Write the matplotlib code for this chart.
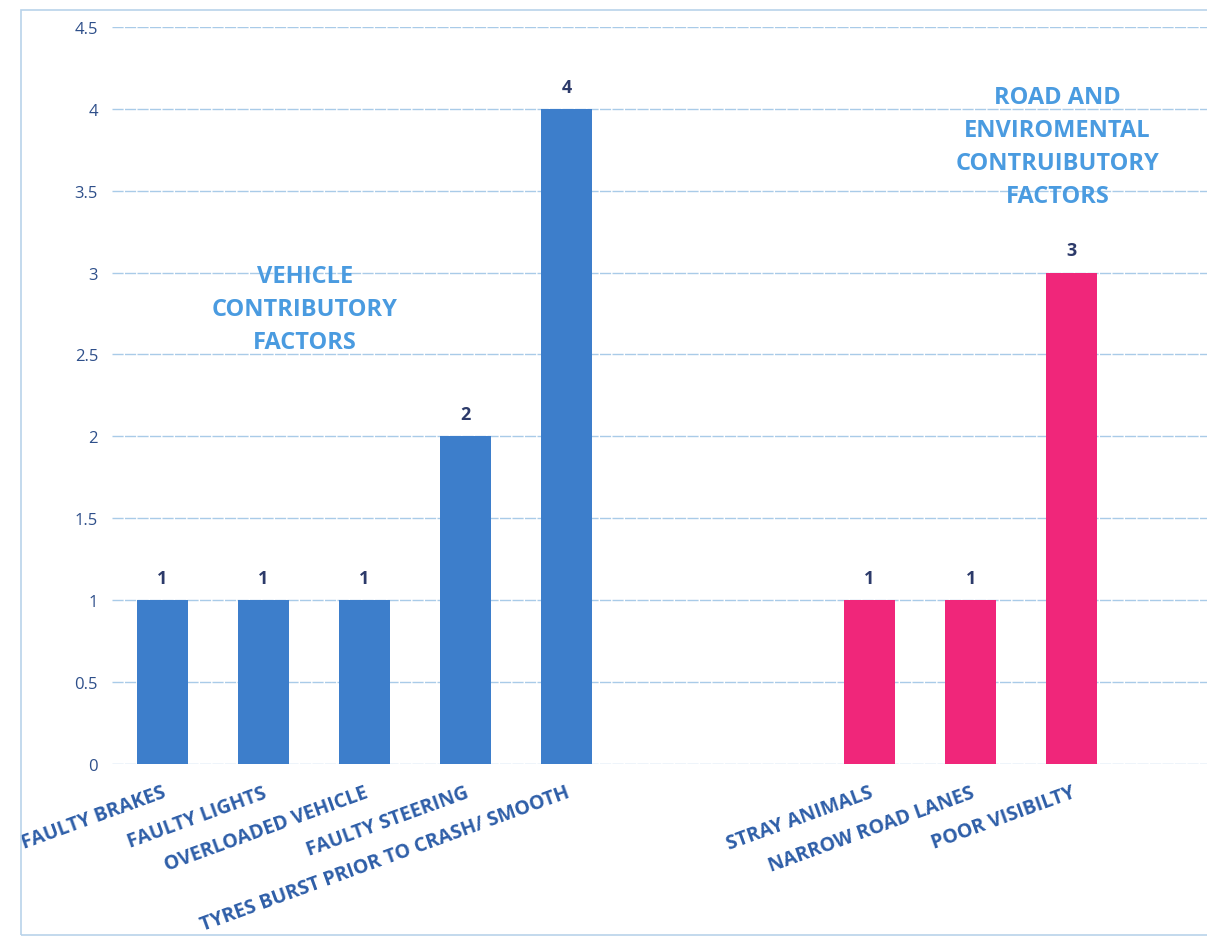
import matplotlib.pyplot as plt
from matplotlib.patches import Rectangle

# vehicle factors
vehicle_labels = ['FAULTY BRAKES', 'FAULTY LIGHTS', 'OVERLOADED VEHICLE',
                  'FAULTY STEERING', 'TYRES BURST PRIOR TO CRASH/ SMOOTH']
vehicle_values = [1, 1, 1, 2, 4]
# road and environmental factors
road_labels = ['STRAY ANIMALS', 'NARROW ROAD LANES', 'POOR VISIBILTY']
road_values = [1, 1, 3]
yticks = [0, 0.5, 1, 1.5, 2, 2.5, 3, 3.5, 4, 4.5]

vehicle_pos = [0, 1, 2, 3, 4]
road_pos = [7, 8, 9]

plt.rcParams['font.family'] = ['Open Sans', 'DejaVu Sans']

fig = plt.figure(figsize=(12.07, 9.45), dpi=100)
fig.patch.set_facecolor('white')
ax = fig.add_axes([0.0928, 0.1905, 0.9072, 0.78])

# outer chart border
fig.patches.append(Rectangle((0.017, 0.01), 1.0, 0.978, transform=fig.transFigure,
                             fill=False, edgecolor='#b9d3ea', linewidth=1.2))

ax.bar(vehicle_pos, vehicle_values, width=0.5, color='#3d7ecb', zorder=3)
ax.bar(road_pos, road_values, width=0.5, color='#f0267a', zorder=3)

for x, v in zip(vehicle_pos + road_pos, vehicle_values + road_values):
    ax.text(x, v + 0.08, str(v), ha='center', va='bottom', fontsize=13,
            fontweight='bold', color='#2c3a6a')

ax.set_ylim(0, 4.5)
ax.set_xlim(-0.5, 10.34)
ax.set_yticks(yticks)
ax.set_yticklabels([f'{t:g}' for t in yticks], fontsize=12, color='#2e4f8a')
ax.tick_params(axis='y', length=0, pad=10)
ax.set_xticks([])
ax.grid(axis='y', color='#a9cbe8', linewidth=1, linestyle=(0, (8, 1)), zorder=0)
ax.set_axisbelow(True)
for s in ax.spines.values():
    s.set_visible(False)

# rotated category labels
for x, lab in zip(vehicle_pos + road_pos, vehicle_labels + road_labels):
    ax.annotate(lab, xy=(x, 0), xycoords='data', xytext=(2, -20), textcoords='offset points',
                rotation=20, rotation_mode='anchor', ha='right', va='center',
                fontsize=14, fontweight='bold', color='#2e5ea8')

ax.text(1.41, 2.78, 'VEHICLE\nCONTRIBUTORY\nFACTORS', ha='center', va='center',
        fontsize=17, fontweight='bold', color='#4a9be0', linespacing=1.5)
ax.text(8.86, 3.77, 'ROAD AND\nENVIROMENTAL\nCONTRUIBUTORY\nFACTORS', ha='center',
        va='center', fontsize=17, fontweight='bold', color='#4a9be0', linespacing=1.5)

fig.savefig('out.png', dpi=100)
